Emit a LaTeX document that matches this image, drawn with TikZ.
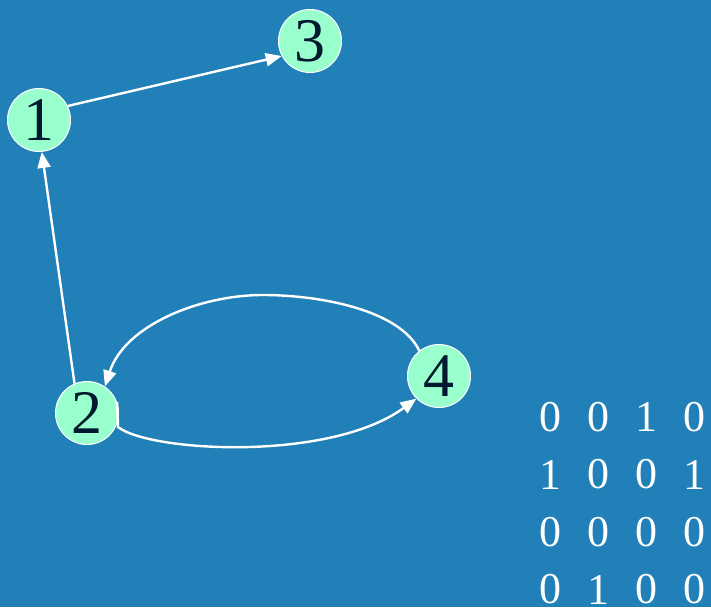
\documentclass[tikz,border=0pt]{standalone}
\usepackage{fontspec}
\setmainfont{Liberation Serif}
\usetikzlibrary{arrows.meta}

\definecolor{bgblue}{RGB}{34,128,184}
\definecolor{mint}{RGB}{153,255,204}
\definecolor{ink}{RGB}{0,24,48}

\begin{document}
\begin{tikzpicture}[x=1pt, y=1pt,
  vertex/.style={circle, fill=mint, draw=white, line width=1pt, minimum size=63pt, inner sep=0pt, text=ink, font=\fontsize{62}{62}\selectfont},
  edge/.style={draw=white, line width=2.4pt, -{Triangle[length=16pt,width=13pt]}},
  entry/.style={text=white, inner sep=0pt, font=\fontsize{44}{44}\selectfont}]
\fill[bgblue] (0,0) rectangle (711,-607);
\useasboundingbox (0,0) rectangle (711,-607);

% graph
\node[vertex] (n1) at (39,-120) {1};
\node[vertex] (n3) at (310,-41) {3};
\node[vertex] (n2) at (87,-413) {2};
\node[vertex] (n4) at (439,-376) {4};

\draw[edge] (n1.26) -- (n3.208);
\draw[edge] (n2.113) -- (n1.275);
\draw[edge] (n4.128) .. controls (400,-310) and (320,-295) .. (263,-295)
  .. controls (200,-295) and (125,-325) .. (n2.56);
\draw[edge] (n2.20) -- ++(1,-25) .. controls (150,-452) and (330,-462) .. (n4.225);

% adjacency matrix
\foreach \r/\vals in {1/{0,0,1,0}, 2/{1,0,0,1}, 3/{0,0,0,0}, 4/{0,1,0,0}}
  \foreach \v [count=\c] in \vals
    \node[entry] (a\r\c) at (502+48*\c, -359.5-57.5*\r) {\v};
\end{tikzpicture}
\end{document}
